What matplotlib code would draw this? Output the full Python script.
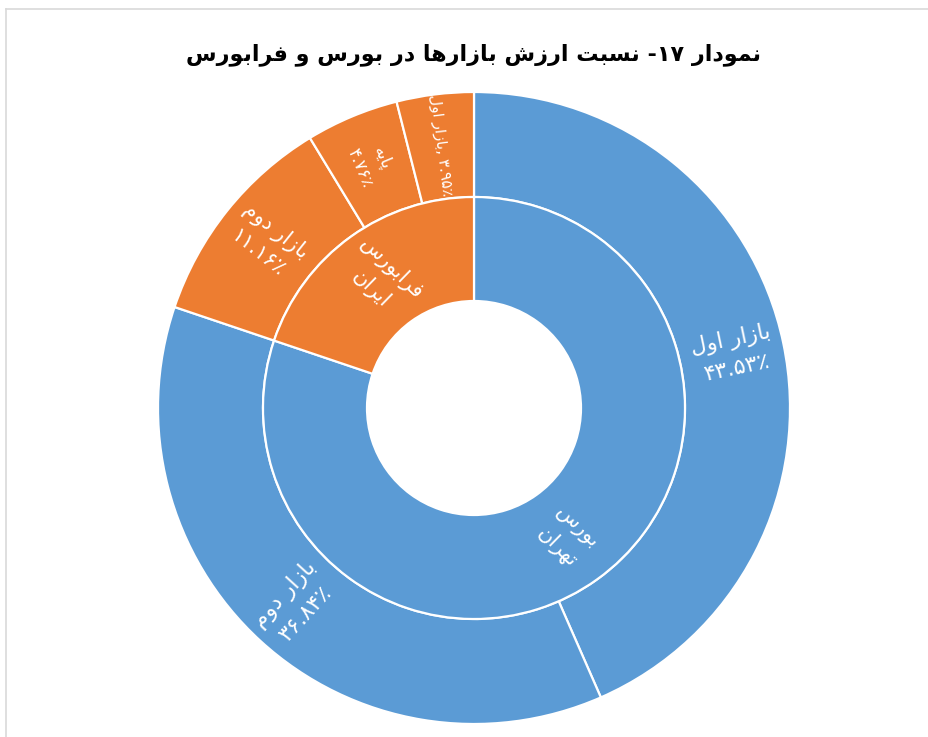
import re
import numpy as np
import matplotlib
matplotlib.use('Agg')
import matplotlib.pyplot as plt
from matplotlib.lines import Line2D

# داده‌ها
title = 'نمودار ۱۷- نسبت ارزش بازارها در بورس و فرابورس'
inner_names = ['بورس\nتهران', 'فرابورس\nایران']
outer_names = ['بازار اول', 'بازار دوم', 'بازار دوم', 'پایه', 'بازار اول']
outer_values = [43.53, 36.84, 11.16, 4.76, 3.95]
outer_pct = ['۴۳.۵۳٪', '۳۶.۸۴٪', '۱۱.۱۶٪', '۴.۷۶٪', '۳.۹۵٪']
outer_group = [0, 0, 1, 1, 1]
inner_values = [sum(v for v, g in zip(outer_values, outer_group) if g == k) for k in (0, 1)]
group_colors = ['#5B9BD5', '#ED7D31']

# شکل‌دهی ساده حروف فارسی (matplotlib خودش اتصال حروف را انجام نمی‌دهد)
FORMS = {  # تنها، پایانی، آغازی، میانی
    'ا': ('\uFE8D', '\uFE8E', None, None),
    'ب': ('\uFE8F', '\uFE90', '\uFE91', '\uFE92'),
    'پ': ('\uFB56', '\uFB57', '\uFB58', '\uFB59'),
    'ت': ('\uFE95', '\uFE96', '\uFE97', '\uFE98'),
    'د': ('\uFEA9', '\uFEAA', None, None),
    'ر': ('\uFEAD', '\uFEAE', None, None),
    'ز': ('\uFEAF', '\uFEB0', None, None),
    'س': ('\uFEB1', '\uFEB2', '\uFEB3', '\uFEB4'),
    'ش': ('\uFEB5', '\uFEB6', '\uFEB7', '\uFEB8'),
    'ف': ('\uFED1', '\uFED2', '\uFED3', '\uFED4'),
    'ل': ('\uFEDD', '\uFEDE', '\uFEDF', '\uFEE0'),
    'م': ('\uFEE1', '\uFEE2', '\uFEE3', '\uFEE4'),
    'ن': ('\uFEE5', '\uFEE6', '\uFEE7', '\uFEE8'),
    'ه': ('\uFEE9', '\uFEEA', '\uFEEB', '\uFEEC'),
    'و': ('\uFEED', '\uFEEE', None, None),
    'ی': ('\uFBFC', '\uFBFD', '\uFBFE', '\uFBFF'),
}


def shape(s):
    out = []
    for i, c in enumerate(s):
        if c not in FORMS:
            out.append(c)
            continue
        p = s[i - 1] if i > 0 else ''
        n = s[i + 1] if i + 1 < len(s) else ''
        jp = p in FORMS and FORMS[p][2] is not None
        jn = FORMS[c][2] is not None and n in FORMS
        f = FORMS[c]
        out.append(f[3] if jp and jn else f[1] if jp else f[2] if jn else f[0])
    return ''.join(out)


def rtl(s):
    lines = []
    for line in s.split('\n'):
        v = shape(line)[::-1]
        v = re.sub('[۰-۹.٪]+', lambda m: m.group(0)[::-1], v)
        lines.append(v)
    return '\n'.join(lines)


W, H = 929, 737
cx, cy, R = 474, 408, 316
fig = plt.figure(figsize=(W / 100, H / 100), dpi=100)
fig.patch.set_facecolor('white')
ax = fig.add_axes([(cx - R) / W, (H - cy - R) / H, 2 * R / W, 2 * R / H])

r_mid = 211 / R
r_hole = 107 / R
wp = dict(edgecolor='white', linewidth=1.6)
ax.pie(outer_values, radius=1, startangle=90, counterclock=False,
       colors=[group_colors[g] for g in outer_group],
       wedgeprops=dict(width=1 - r_mid, **wp))
ax.pie(inner_values, radius=r_mid, startangle=90, counterclock=False,
       colors=group_colors, wedgeprops=dict(width=r_mid - r_hole, **wp))
ax.set_xlim(-1, 1)
ax.set_ylim(-1, 1)
ax.set_aspect('equal')
ax.axis('off')


def place(values, radius, texts, sizes, tilt=0):
    total = sum(values)
    cum = 0
    for v, t, fs in zip(values, texts, sizes):
        mid = 90 - (cum + v / 2) / total * 360
        cum += v
        a = np.deg2rad(mid)
        rot = ((mid + 90) % 360) - 90
        if rot > 90:
            rot -= 180
        ax.text(radius * np.cos(a), radius * np.sin(a), t, color='white',
                fontsize=fs, rotation=rot + tilt, rotation_mode='anchor',
                ha='center', va='center', multialignment='center',
                linespacing=1.5, clip_on=False)


outer_texts = []
for name, pct, v in zip(outer_names, outer_pct, outer_values):
    if v < 4.5:
        outer_texts.append(rtl(name) + ', ' + pct)
    else:
        outer_texts.append(rtl(name) + '\n' + pct)
outer_sizes = [16, 16, 15, 12, 11]
place(outer_values, 0.84, outer_texts, outer_sizes)
place(inner_values, (r_mid + r_hole) / 2, [rtl(t) for t in inner_names], [15, 15], tilt=10)

fig.text(cx / W, 1 - 55 / H, rtl(title), ha='center', va='center',
         fontsize=16, fontweight='bold', color='black')

fig.add_artist(Line2D([6.5 / W, 6.5 / W], [0, 1 - 8.5 / H], transform=fig.transFigure,
                      color='#d9d9d9', linewidth=1.2))
fig.add_artist(Line2D([6.5 / W, 1], [1 - 8.5 / H, 1 - 8.5 / H], transform=fig.transFigure,
                      color='#d9d9d9', linewidth=1.2))

fig.savefig('out.png', dpi=100)
